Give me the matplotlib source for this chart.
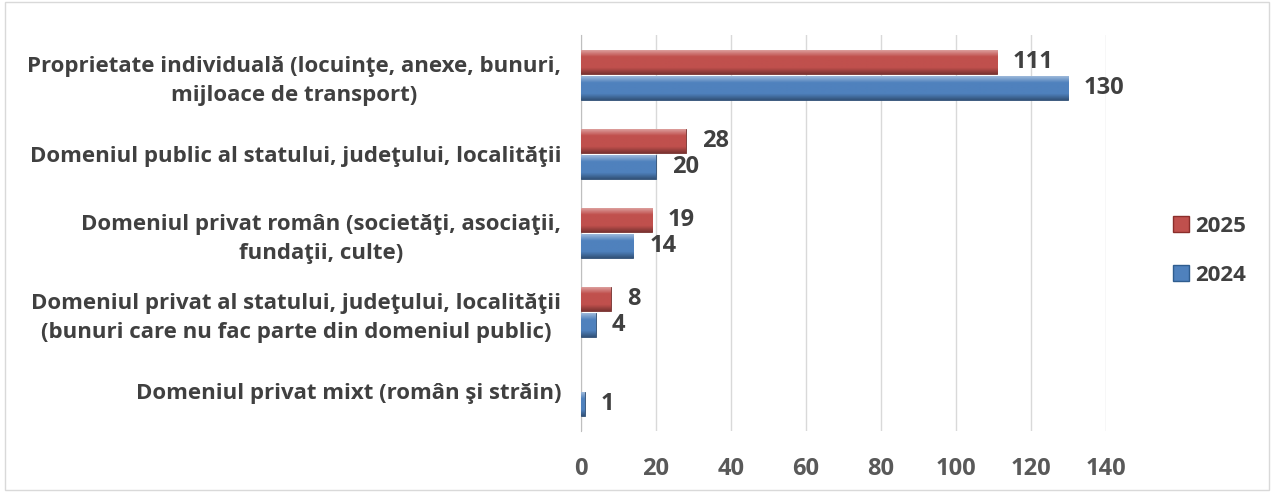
import matplotlib.pyplot as plt
import numpy as np
from matplotlib.colors import to_rgb
from matplotlib.patches import Patch, Rectangle

categories = [
    "Proprietate individuală (locuinţe, anexe, bunuri,\nmijloace de transport)",
    "Domeniul public al statului, judeţului, localităţii",
    "Domeniul privat român (societăţi, asociaţii,\nfundaţii, culte)",
    "Domeniul privat al statului, judeţului, localităţii\n(bunuri care nu fac parte din domeniul public)",
    "Domeniul privat mixt (român şi străin)",
]
vals_2025 = [111, 28, 19, 8, None]
vals_2024 = [130, 20, 14, 4, 1]
xticks = [0, 20, 40, 60, 80, 100, 120, 140]

red = "#C0504D"
blue = "#4F81BD"
txt = "#404040"

plt.rcParams["font.family"] = ["Open Sans", "DejaVu Sans"]

fig = plt.figure(figsize=(12.74, 4.92), dpi=100)
ax = fig.add_axes([0.456, 0.125, 0.412, 0.803])

y = np.arange(len(categories))
h = 0.31


def shade(base):
    c = np.array(to_rgb(base))
    light = c + (1 - c) * 0.5
    dark = c * 0.65
    rows = []
    for t in np.linspace(0, 1, 40):
        if t < 0.3:
            k = t / 0.3
            rows.append(light * (1 - k) + c * k)
        elif t < 0.75:
            rows.append(c)
        else:
            k = (t - 0.75) / 0.25
            rows.append(c * (1 - k) + dark * k)
    return np.array(rows)[:, None, :]


def draw(vals, offset, color):
    v = [0 if x is None else x for x in vals]
    edge = tuple(np.array(to_rgb(color)) * 0.6)
    bars = ax.barh(y + offset, v, height=h, color=color, edgecolor=edge,
                   linewidth=0.6, zorder=3)
    img = shade(color)
    for b, val in zip(bars, vals):
        if val is None:
            b.set_visible(False)
            continue
        x0, y0 = b.get_x(), b.get_y()
        w, hh = b.get_width(), b.get_height()
        im = ax.imshow(img, extent=(x0, x0 + w, y0 + hh, y0), aspect="auto",
                       zorder=3.5, interpolation="bilinear")
        im.set_clip_path(b)
        ax.text(x0 + w + 4.2, y0 + hh / 2, str(val), va="center", ha="left",
                fontsize=17, fontweight="bold", color=txt, zorder=5)


draw(vals_2025, -h / 2 - 0.01, red)
draw(vals_2024, h / 2 + 0.01, blue)

ax.set_xlim(0, 140)
ax.set_ylim(len(categories) - 0.5, -0.5)
ax.set_xticks(xticks)
ax.set_xticklabels([str(t) for t in xticks], fontsize=17, fontweight="bold", color="#595959")
ax.set_yticks(y)
ax.set_yticklabels(categories, fontsize=16, fontweight="bold", color=txt)
for lab in ax.get_yticklabels():
    lab.set_multialignment("center")
    lab.set_linespacing(1.45)
ax.tick_params(axis="y", length=0, pad=14)
ax.tick_params(axis="x", length=0, pad=19)
ax.grid(axis="x", color="#D9D9D9", linewidth=1, zorder=0)
for s in ["top", "right", "bottom"]:
    ax.spines[s].set_visible(False)
ax.spines["left"].set_color("#BFBFBF")

handles = [Patch(facecolor=red, edgecolor="#8B2E2B", label="2025"),
           Patch(facecolor=blue, edgecolor="#2F5D8F", label="2024")]
fig.legend(handles=handles, loc="center left", bbox_to_anchor=(0.905, 0.49),
           frameon=False, handlelength=0.7, handleheight=0.7, handletextpad=0.3,
           labelspacing=1.25, prop={"size": 16, "weight": "bold"}, labelcolor=txt)

fig.patches.append(Rectangle((0.004, 0.004), 0.992, 0.992, transform=fig.transFigure,
                             fill=False, edgecolor="#D9D9D9", linewidth=1))

fig.savefig("out.png", dpi=100)
